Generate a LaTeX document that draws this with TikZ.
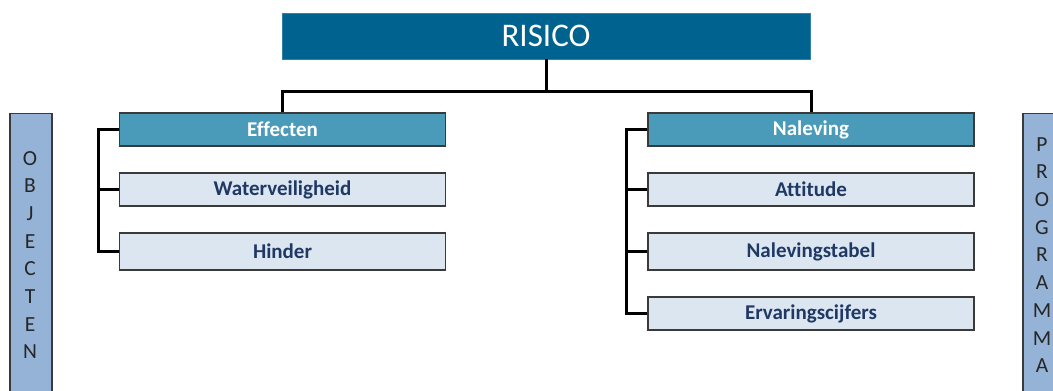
\documentclass[tikz,border=0pt]{standalone}
\usepackage{fontspec}
\setmainfont{Carlito}[Ligatures=NoCommon]
\definecolor{topblue}{HTML}{00628F}
\definecolor{midblue}{HTML}{4A9AB9}
\definecolor{paleblue}{HTML}{DCE6F1}
\definecolor{sideblue}{HTML}{95B3D7}
\definecolor{navy}{HTML}{1F3864}
\definecolor{edge}{HTML}{3A3A3A}
\begin{document}
\begin{tikzpicture}[x=1pt,y=-1pt,
  rootbox/.style={rectangle, fill=topblue, draw=topblue!80!white, line width=0.8pt,
    minimum width=528pt, minimum height=46pt, inner sep=0pt,
    text=white, font=\fontsize{33}{35}\selectfont},
  headbox/.style={rectangle, fill=midblue, draw=edge, line width=1.1pt,
    minimum width=326pt, minimum height=33pt, inner sep=0pt,
    text=white, font=\bfseries\fontsize{21}{23}\selectfont},
  itembox/.style={rectangle, fill=paleblue, draw=edge, line width=1.1pt,
    minimum width=326pt, minimum height=33pt, inner sep=0pt,
    text=navy, font=\bfseries\fontsize{21}{23}\selectfont},
  sidebar/.style={rectangle, fill=sideblue, draw=edge, line width=1.1pt,
    minimum width=42pt, minimum height=300pt, inner sep=0pt, anchor=north},
  sideletters/.style={inner sep=0pt, align=center,
    text=black!85, font=\fontsize{21.5}{27.7}\selectfont},
  link/.style={draw=black, line width=3pt}
]
\useasboundingbox (0,0) rectangle (1053,391);

% top of the hierarchy
\node[rootbox] (risico) at (546,36) {RISICO};

% left branch
\node[headbox] (effecten) at (282.5,129.5) {Effecten};
\node[itembox] (water) at (282.5,189.5) {Waterveiligheid};
\node[itembox, minimum height=37pt] (hinder) at (282.5,251.5) {Hinder};

% right branch
\node[headbox] (naleving) at (811,129.5) {Naleving};
\node[itembox] (attitude) at (811,189.5) {Attitude};
\node[itembox, minimum height=37pt] (tabel) at (811,251.5) {Nalevingstabel};
\node[itembox] (cijfers) at (811,313.5) {Ervaringscijfers};

% side bars with their vertical captions
\node[sidebar] (objecten) at (31,113) {};
\node[sideletters] (objtext) at (30,255) {O\\B\\J\\E\\C\\T\\E\\N};
\node[sidebar] (programma) at (1044,113) {};
\node[sideletters] (progtext) at (1042,255) {P\\R\\O\\G\\R\\A\\M\\M\\A};

% connectors
\draw[link] (risico.south) -- ++(0,32) coordinate (fork);
\draw[link] (fork) -| (effecten.north);
\draw[link] (fork) -| (naleving.north);

\draw[link] (effecten.west) -- ++(-20,0) |- (hinder.west);
\draw[link] (water.west) -- ++(-20,0);

\draw[link] (naleving.west) -- ++(-21,0) |- (cijfers.west);
\draw[link] (attitude.west) -- ++(-21,0);
\draw[link] (tabel.west) -- ++(-21,0);
\end{tikzpicture}
\end{document}
